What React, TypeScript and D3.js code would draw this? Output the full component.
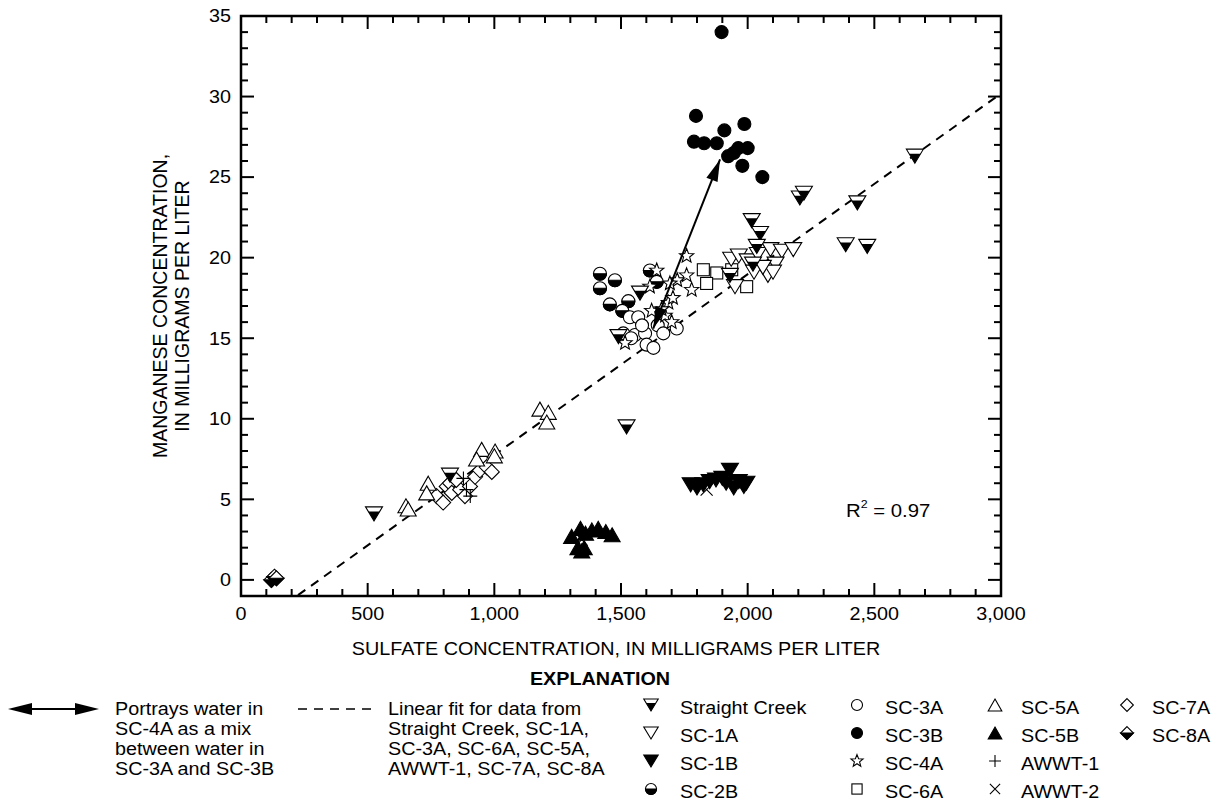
import React from 'react';
import * as d3 from 'd3';

type Pt = [number, number];

// ---------- data (sulfate mg/L, manganese mg/L) ----------
const straightCreek: Pt[] = [
  [525, 4.1], [825, 6.5], [1522, 9.5], [1575, 17.8], [1490, 15.1], [1930, 18.9],
  [2016, 22.3], [2049, 21.5], [2036, 20.7], [2021, 19.6], [2206, 23.7], [2222, 24.0],
  [2433, 23.4], [2387, 20.8], [2472, 20.7], [2660, 26.3],
];
const sc1A: Pt[] = [
  [1935, 19.9], [1965, 20.1], [2000, 19.8], [2040, 20.2], [2090, 20.5], [2135, 20.4],
  [2180, 20.5], [2110, 19.6], [2080, 18.9], [2100, 19.1], [2025, 19.1], [1950, 18.2], [2060, 19.4],
];
const sc1B: Pt[] = [
  [1775, 5.9], [1800, 5.7], [1825, 5.9], [1850, 6.1], [1875, 6.2], [1900, 6.3],
  [1930, 6.8], [1915, 6.0], [1945, 5.7], [1965, 6.1], [1985, 5.8], [1995, 6.0],
];
const sc2B: Pt[] = [
  [1417, 19.0], [1476, 18.6], [1417, 18.1], [1456, 17.1], [1529, 17.3], [1505, 16.7],
  [1614, 19.2], [1641, 18.5],
];
const sc3A: Pt[] = [
  [1509, 15.3], [1535, 16.3], [1555, 15.2], [1568, 16.3], [1595, 15.3], [1601, 14.6],
  [1628, 14.4], [1645, 15.8], [1667, 15.3], [1720, 15.6], [1583, 15.8], [1540, 15.0],
];
const sc3B: Pt[] = [
  [1897, 34.0], [1796, 28.8], [1788, 27.2], [1828, 27.1], [1878, 27.1], [1908, 27.9],
  [1987, 28.3], [1923, 26.3], [1945, 26.5], [1963, 26.8], [2000, 26.8], [1979, 25.7], [2058, 25.0],
];
const sc4A: Pt[] = [
  [1759, 20.1], [1759, 18.9], [1779, 18.0], [1722, 18.6], [1693, 18.4], [1641, 19.2],
  [1614, 18.2], [1687, 17.2], [1674, 16.4], [1700, 16.0], [1621, 16.7], [1516, 14.7],
  [1660, 16.8], [1705, 17.5],
];
const sc6A: Pt[] = [[1825, 19.25], [1878, 19.05], [1937, 19.25], [1838, 18.4], [1996, 18.2]];
const sc5A: Pt[] = [
  [651, 4.6], [660, 4.4], [739, 6.0], [733, 5.4], [950, 8.1], [930, 7.5], [1003, 8.0],
  [1000, 7.7], [1180, 10.6], [1213, 10.4], [1207, 9.8],
];
const sc5B: Pt[] = [
  [1305, 2.7], [1340, 3.2], [1360, 2.9], [1385, 3.1], [1410, 3.2], [1440, 3.0],
  [1465, 2.8], [1330, 2.0], [1355, 2.0], [1345, 1.8],
];
const awwt1: Pt[] = [[878, 6.3], [905, 5.2], [890, 5.6]];
const awwt2: Pt[] = [[1838, 5.6], [1345, 2.5]];
const sc7A: Pt[] = [
  [772, 5.2], [798, 4.8], [812, 5.8], [825, 6.0], [832, 5.4], [865, 5.6], [884, 5.2],
  [904, 5.8], [924, 6.4], [943, 6.8], [956, 7.4], [970, 7.0], [990, 6.7], [850, 6.2],
];
const sc8A: Pt[] = [[120, 0.0], [132, 0.2], [140, 0.1]];

const xTicks = [0, 500, 1000, 1500, 2000, 2500, 3000];
const yTicks = [0, 5, 10, 15, 20, 25, 30, 35];
const xDomain: [number, number] = [0, 3000];
const yDomain: [number, number] = [-1, 35];

// linear fit (manganese = intercept + slope * sulfate)
const fitSlope = 0.01122;
const fitIntercept = -3.47;
const fitRange: [number, number] = [225, 3000];
const mixArrow: Pt[] = [[1627, 15.6], [1891, 26.1]];

type Kind =
  | 'sc' | 'sc1a' | 'sc1b' | 'sc2b' | 'sc3a' | 'sc3b' | 'sc4a' | 'sc6a'
  | 'sc5a' | 'sc5b' | 'awwt1' | 'awwt2' | 'sc7a' | 'sc8a';

const seriesOrder: { kind: Kind; data: Pt[] }[] = [
  { kind: 'sc5b', data: sc5B },
  { kind: 'sc1b', data: sc1B },
  { kind: 'awwt2', data: awwt2 },
  { kind: 'sc8a', data: sc8A },
  { kind: 'sc7a', data: sc7A },
  { kind: 'sc5a', data: sc5A },
  { kind: 'awwt1', data: awwt1 },
  { kind: 'sc2b', data: sc2B },
  { kind: 'sc3a', data: sc3A },
  { kind: 'sc4a', data: sc4A },
  { kind: 'sc6a', data: sc6A },
  { kind: 'sc1a', data: sc1A },
  { kind: 'sc', data: straightCreek },
  { kind: 'sc3b', data: sc3B },
];

const legendCols: { kind: Kind; label: string }[][] = [
  [
    { kind: 'sc', label: 'Straight Creek' },
    { kind: 'sc1a', label: 'SC-1A' },
    { kind: 'sc1b', label: 'SC-1B' },
    { kind: 'sc2b', label: 'SC-2B' },
  ],
  [
    { kind: 'sc3a', label: 'SC-3A' },
    { kind: 'sc3b', label: 'SC-3B' },
    { kind: 'sc4a', label: 'SC-4A' },
    { kind: 'sc6a', label: 'SC-6A' },
  ],
  [
    { kind: 'sc5a', label: 'SC-5A' },
    { kind: 'sc5b', label: 'SC-5B' },
    { kind: 'awwt1', label: 'AWWT-1' },
    { kind: 'awwt2', label: 'AWWT-2' },
  ],
  [
    { kind: 'sc7a', label: 'SC-7A' },
    { kind: 'sc8a', label: 'SC-8A' },
  ],
];
const arrowLegendLines = ['Portrays water in', 'SC-4A as a mix', 'between water in', 'SC-3A and SC-3B'];
const fitLegendLines = ['Linear fit for data from', 'Straight Creek, SC-1A,', 'SC-3A, SC-6A, SC-5A,', 'AWWT-1, SC-7A, SC-8A'];

// ---------- layout ----------
const W = 1218;
const H = 803;
const plot = { left: 241, right: 1001, top: 16, bottom: 596 };
const FONT = '"Liberation Sans", Arial, Helvetica, sans-serif';
const FS = 17.5;
const SX = 1.13; // horizontal widening of the lettering

const x = d3.scaleLinear().domain(xDomain).range([plot.left, plot.right]);
const y = d3.scaleLinear().domain(yDomain).range([plot.bottom, plot.top]);

function SText({ x: tx, y: ty, anchor = 'start', size = FS, bold = false, children }:
  { x: number; y: number; anchor?: 'start' | 'middle' | 'end'; size?: number; bold?: boolean; children: React.ReactNode }) {
  return (
    <text transform={`translate(${tx},${ty}) scale(${SX},1)`} textAnchor={anchor} fontSize={size}
      fontWeight={bold ? 'bold' : 'normal'}>
      {children}
    </text>
  );
}

function starPath(R: number, r: number) {
  const pts: string[] = [];
  for (let i = 0; i < 10; i++) {
    const a = -Math.PI / 2 + (i * Math.PI) / 5;
    const rad = i % 2 === 0 ? R : r;
    pts.push(`${(rad * Math.cos(a)).toFixed(2)},${(rad * Math.sin(a)).toFixed(2)}`);
  }
  return 'M' + pts.join('L') + 'Z';
}

function Marker({ kind, cx, cy, s = 1 }: { kind: Kind; cx: number; cy: number; s?: number }) {
  const sw = 1.1;
  const t = `translate(${cx},${cy}) scale(${s})`;
  const invW = 17, invH = 14;
  const inv = `M${-invW / 2},${-invH / 2}L${invW / 2},${-invH / 2}L0,${invH / 2}Z`;
  const upW = 16, upH = 14;
  const up = `M0,${-upH / 2}L${upW / 2},${upH / 2}L${-upW / 2},${upH / 2}Z`;
  const r = 6.5;
  const d = 7.5;
  const common = { strokeWidth: sw / s, stroke: '#000', strokeLinejoin: 'miter' as const };
  switch (kind) {
    case 'sc': {
      const f = 0.33;
      const ys = -invH / 2 + f * invH;
      const hw = (invW / 2) * (1 - f);
      return (
        <g transform={t}>
          <path d={inv} fill="#fff" {...common} />
          <path d={`M${-hw},${ys}L${hw},${ys}L0,${invH / 2}Z`} fill="#000" />
        </g>
      );
    }
    case 'sc1a':
      return <g transform={t}><path d={inv} fill="#fff" {...common} /></g>;
    case 'sc1b':
      return <g transform={t}><path d={inv} fill="#000" {...common} /></g>;
    case 'sc2b':
      return (
        <g transform={t}>
          <circle r={r} fill="#fff" {...common} />
          <path d={`M${-r},0A${r},${r} 0 0 0 ${r},0Z`} fill="#000" {...common} />
        </g>
      );
    case 'sc3a':
      return <g transform={t}><circle r={r} fill="#fff" {...common} /></g>;
    case 'sc3b':
      return <g transform={t}><circle r={r} fill="#000" {...common} /></g>;
    case 'sc4a':
      return <g transform={t}><path d={starPath(7.5, 3.2)} fill="#fff" {...common} /></g>;
    case 'sc6a':
      return <g transform={t}><rect x={-6} y={-6} width={12} height={12} fill="#fff" {...common} /></g>;
    case 'sc5a':
      return <g transform={t}><path d={up} fill="#fff" {...common} /></g>;
    case 'sc5b':
      return <g transform={t}><path d={up} fill="#000" {...common} /></g>;
    case 'awwt1':
      return <g transform={t}><path d="M-7,0H7M0,-7V7" fill="none" {...common} /></g>;
    case 'awwt2':
      return <g transform={t}><path d="M-6,-6L6,6M-6,6L6,-6" fill="none" {...common} /></g>;
    case 'sc7a':
      return <g transform={t}><path d={`M0,${-d}L${d},0L0,${d}L${-d},0Z`} fill="#fff" {...common} /></g>;
    case 'sc8a':
      return (
        <g transform={t}>
          <path d={`M0,${-d}L${d},0L0,${d}L${-d},0Z`} fill="#fff" {...common} />
          <path d={`M${-d},0L${d},0L0,${d}Z`} fill="#000" {...common} />
        </g>
      );
  }
  return null;
}

function arrowHead(tip: Pt, from: Pt, len: number, half: number) {
  const dx = tip[0] - from[0];
  const dy = tip[1] - from[1];
  const L = Math.hypot(dx, dy);
  const ux = dx / L, uy = dy / L;
  const bx = tip[0] - ux * len, by = tip[1] - uy * len;
  const px = -uy, py = ux;
  return `M${tip[0]},${tip[1]}L${bx + px * half},${by + py * half}L${bx - px * half},${by - py * half}Z`;
}

export default function App() {
  const xMinor = d3.range(xDomain[0], xDomain[1] + 1, 100).filter((v) => v % 500 !== 0);
  const yMinor = d3.range(0, yDomain[1] + 0.5, 1).filter((v) => v % 5 !== 0);
  const MAJ = 13, MIN = 7;

  const a0: Pt = [x(mixArrow[0][0]), y(mixArrow[0][1])];
  const a1: Pt = [x(mixArrow[1][0]), y(mixArrow[1][1])];

  const legRows = [708, 736, 764, 792];
  const colSym = [651, 857, 995, 1127];
  const colText = [680, 885, 1021, 1152];

  const leftLine0 = 709;
  const leftStep = 20;
  const la0: Pt = [8, leftLine0];
  const la1: Pt = [99, leftLine0];

  return (
    <svg width={W} height={H} style={{ position: 'absolute', left: 0, top: 0, background: '#fff' }} fontFamily={FONT}>
      <style>{`body{margin:0}`}</style>
      <rect x={0} y={0} width={W} height={H} fill="#fff" />

      {/* fit line */}
      <line
        x1={x(fitRange[0])} y1={y(fitIntercept + fitSlope * fitRange[0])}
        x2={x(fitRange[1])} y2={y(fitIntercept + fitSlope * fitRange[1])}
        stroke="#000" strokeWidth={2} strokeDasharray="9,7"
      />

      {/* markers */}
      {seriesOrder.map((srs) =>
        srs.data.map((p, i) => <Marker key={srs.kind + i} kind={srs.kind} cx={x(p[0])} cy={y(p[1])} />)
      )}

      {/* mixing arrow */}
      <line x1={a0[0]} y1={a0[1]} x2={a1[0]} y2={a1[1]} stroke="#000" strokeWidth={2} />
      <path d={arrowHead(a1, a0, 22, 6)} fill="#000" />
      <path d={arrowHead(a0, a1, 22, 6)} fill="#000" />

      {/* ticks */}
      {xTicks.map((v) => (
        <g key={'xt' + v}>
          <line x1={x(v)} x2={x(v)} y1={plot.bottom} y2={plot.bottom - MAJ} stroke="#000" strokeWidth={2} />
          <line x1={x(v)} x2={x(v)} y1={plot.top} y2={plot.top + MAJ} stroke="#000" strokeWidth={2} />
          <SText x={x(v)} y={620} anchor="middle">{d3.format(',')(v)}</SText>
        </g>
      ))}
      {xMinor.map((v) => (
        <g key={'xm' + v}>
          <line x1={x(v)} x2={x(v)} y1={plot.bottom} y2={plot.bottom - MIN} stroke="#000" strokeWidth={2} />
          <line x1={x(v)} x2={x(v)} y1={plot.top} y2={plot.top + MIN} stroke="#000" strokeWidth={2} />
        </g>
      ))}
      {yTicks.map((v) => (
        <g key={'yt' + v}>
          <line x1={plot.left} x2={plot.left + MAJ} y1={y(v)} y2={y(v)} stroke="#000" strokeWidth={2} />
          <line x1={plot.right} x2={plot.right - MAJ} y1={y(v)} y2={y(v)} stroke="#000" strokeWidth={2} />
          <SText x={231} y={y(v) + 6.3} anchor="end">{v}</SText>
        </g>
      ))}
      {yMinor.map((v) => (
        <g key={'ym' + v}>
          <line x1={plot.left} x2={plot.left + MIN} y1={y(v)} y2={y(v)} stroke="#000" strokeWidth={2} />
          <line x1={plot.right} x2={plot.right - MIN} y1={y(v)} y2={y(v)} stroke="#000" strokeWidth={2} />
        </g>
      ))}

      {/* frame */}
      <rect x={plot.left} y={plot.top} width={plot.right - plot.left} height={plot.bottom - plot.top}
        fill="none" stroke="#000" strokeWidth={2.5} />

      {/* R2 */}
      <SText x={846} y={517} size={18}>
        R<tspan dy={-9} fontSize={11}>2</tspan><tspan dy={9}> = 0.97</tspan>
      </SText>

      {/* axis titles */}
      <SText x={616} y={655} anchor="middle">SULFATE CONCENTRATION, IN MILLIGRAMS PER LITER</SText>
      <g transform={`translate(167,306) rotate(-90)`}>
        <text x={0} y={0} textAnchor="middle" fontSize={19.5}>MANGANESE CONCENTRATION,</text>
      </g>
      <g transform={`translate(189,306) rotate(-90)`}>
        <text x={0} y={0} textAnchor="middle" fontSize={19.5}>IN MILLIGRAMS PER LITER</text>
      </g>

      {/* explanation */}
      <SText x={600} y={685} anchor="middle" bold>EXPLANATION</SText>

      <line x1={la0[0] + 10} y1={la0[1]} x2={la1[0] - 10} y2={la1[1]} stroke="#000" strokeWidth={2} />
      <path d={arrowHead(la1, la0, 24, 6)} fill="#000" />
      <path d={arrowHead(la0, la1, 24, 6)} fill="#000" />
      {arrowLegendLines.map((s, i) => (
        <SText key={'al' + i} x={115} y={leftLine0 + 6.3 + i * leftStep}>{s}</SText>
      ))}

      <line x1={298} x2={378} y1={leftLine0} y2={leftLine0} stroke="#000" strokeWidth={1.6} strokeDasharray="9,7" />
      {fitLegendLines.map((s, i) => (
        <SText key={'fl' + i} x={388} y={leftLine0 + 6.3 + i * leftStep}>{s}</SText>
      ))}

      {legendCols.map((col, ci) =>
        col.map((it, ri) => (
          <g key={it.label}>
            <Marker kind={it.kind} cx={colSym[ci]} cy={legRows[ri] - 3} s={0.85} />
            <SText x={colText[ci]} y={legRows[ri] + 6.3}>{it.label}</SText>
          </g>
        ))
      )}
    </svg>
  );
}
